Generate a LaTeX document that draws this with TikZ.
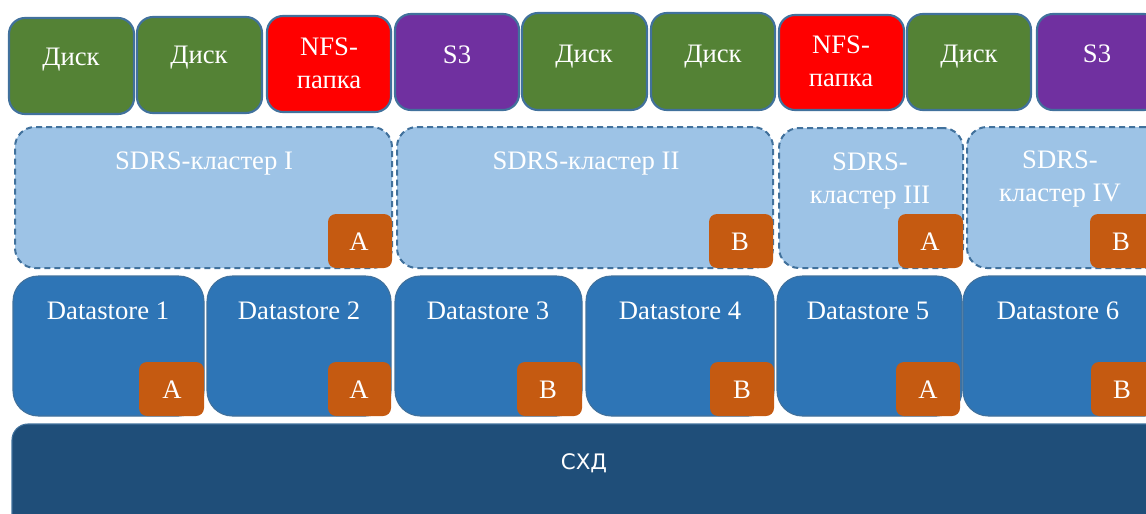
\documentclass[tikz,border=0pt]{standalone}
\usepackage{fontspec}
\setmainfont{Liberation Serif}
\newfontfamily\sxdfont{DejaVu Sans}
\usetikzlibrary{fit}
\definecolor{cgreen}{HTML}{548235}
\definecolor{cred}{HTML}{FF0000}
\definecolor{cpurple}{HTML}{7030A0}
\definecolor{cborder}{HTML}{41719C}
\definecolor{csdrs}{HTML}{9DC3E6}
\definecolor{cds}{HTML}{2E75B6}
\definecolor{cbadge}{HTML}{C55A11}
\definecolor{csxd}{HTML}{1F4E79}
\tikzset{
  box/.style={inner sep=0pt, outer sep=0pt},
  topbox/.style={box, draw=cborder, line width=1.6pt, rounded corners=12pt},
  sdrsbox/.style={box, draw=cborder, fill=csdrs, line width=1.5pt, dash pattern=on 4.5pt off 3pt, rounded corners=15pt},
  dsbox/.style={box, draw=cborder, fill=cds, line width=0.8pt, rounded corners=19pt},
  badge/.style={box, fill=cbadge, rounded corners=6pt},
  sxdbox/.style={box, draw=cborder, fill=csxd, line width=0.8pt, rounded corners=12pt},
  lbl/.style={text=white, font=\fontsize{20}{22}\selectfont, inner sep=0pt, anchor=base},
  sxdlbl/.style={text=white, font=\sxdfont\fontsize{16}{18}\selectfont, inner sep=0pt, anchor=base}
}
\begin{document}
\begin{tikzpicture}[x=0.75pt,y=-0.75pt]
\useasboundingbox (0,0) rectangle (1146,514);
\clip (0,0) rectangle (1146,514);
% top row
\node[topbox, fill=cgreen, fit={(9,18) (134,114)}] (b1) {};
\node[topbox, fill=cgreen, fit={(137,17) (262,113)}] (b2) {};
\node[topbox, fill=cred, fit={(267,16) (391,112)}] (b3) {};
\node[topbox, fill=cpurple, fit={(395,14) (519,110)}] (b4) {};
\node[topbox, fill=cgreen, fit={(522,13) (647,110)}] (b5) {};
\node[topbox, fill=cgreen, fit={(651,13) (775,110)}] (b6) {};
\node[topbox, fill=cred, fit={(779,15) (904,110)}] (b7) {};
\node[topbox, fill=cgreen, fit={(907,14) (1031,110)}] (b8) {};
\node[topbox, fill=cpurple, fit={(1037,14) (1160,110)}] (b9) {};
\node[lbl] (t1) at (71,65) {Диск};
\node[lbl] (t2) at (199,63) {Диск};
\node[lbl] (t3a) at (329,55) {NFS-};
\node[lbl] (t3b) at (329,88) {папка};
\node[lbl] (t4) at (457,63) {S3};
\node[lbl] (t5) at (584,62) {Диск};
\node[lbl] (t6) at (713,62) {Диск};
\node[lbl] (t7a) at (841,53) {NFS-};
\node[lbl] (t7b) at (841,86) {папка};
\node[lbl] (t8) at (969,62) {Диск};
\node[lbl] (t9) at (1097,62) {S3};
% SDRS row
\node[sdrsbox, fit={(15,127) (392,268)}] (s1) {};
\node[sdrsbox, fit={(397,127) (773,268)}] (s2) {};
\node[sdrsbox, fit={(779,128) (963,268)}] (s3) {};
\node[sdrsbox, fit={(967,127) (1165,268)}] (s4) {};
\node[lbl] (st1) at (204,169) {SDRS-кластер I};
\node[lbl] (st2) at (586,169) {SDRS-кластер II};
\node[lbl] (st3a) at (870,170) {SDRS-};
\node[lbl] (st3b) at (870,203) {кластер III};
\node[lbl] (st4a) at (1060,168) {SDRS-};
\node[lbl] (st4b) at (1060,201) {кластер IV};
\node[badge, fit={(328,214) (392,268)}] (sb1) {};
\node[badge, fit={(709,214) (773,268)}] (sb2) {};
\node[badge, fit={(898,214) (963,268)}] (sb3) {};
\node[badge, fit={(1090,214) (1154,268)}] (sb4) {};
\node[lbl] (sl1) at (359,250) {A};
\node[lbl] (sl2) at (740,250) {B};
\node[lbl] (sl3) at (930,250) {A};
\node[lbl] (sl4) at (1121,250) {B};
% Datastores
\node[dsbox, fit={(13,276) (204,416)}] (d1) {};
\node[dsbox, fit={(207,276) (391,416)}] (d2) {};
\node[dsbox, fit={(395,276) (582,416)}] (d3) {};
\node[dsbox, fit={(586,276) (774,416)}] (d4) {};
\node[dsbox, fit={(777,276) (962,416)}] (d5) {};
\node[dsbox, fit={(963,276) (1170,416)}] (d6) {};
\node[lbl] (dt1) at (108,319) {Datastore 1};
\node[lbl] (dt2) at (299,319) {Datastore 2};
\node[lbl] (dt3) at (488,319) {Datastore 3};
\node[lbl] (dt4) at (680,319) {Datastore 4};
\node[lbl] (dt5) at (868,319) {Datastore 5};
\node[lbl] (dt6) at (1058,319) {Datastore 6};
\node[badge, fit={(139,362) (204,416)}] (db1) {};
\node[badge, fit={(328,362) (391,416)}] (db2) {};
\node[badge, fit={(517,362) (582,416)}] (db3) {};
\node[badge, fit={(710,362) (774,416)}] (db4) {};
\node[badge, fit={(896,362) (960,416)}] (db5) {};
\node[badge, fit={(1091,362) (1155,416)}] (db6) {};
\node[lbl] (dl1) at (172,398) {A};
\node[lbl] (dl2) at (359,398) {A};
\node[lbl] (dl3) at (548,398) {B};
\node[lbl] (dl4) at (742,398) {B};
\node[lbl] (dl5) at (928,398) {A};
\node[lbl] (dl6) at (1122,398) {B};
% storage
\node[sxdbox, fit={(12,424) (1170,535)}] (sxd) {};
\node[sxdlbl] (sxdt) at (584,469) {СХД};
\end{tikzpicture}
\end{document}
